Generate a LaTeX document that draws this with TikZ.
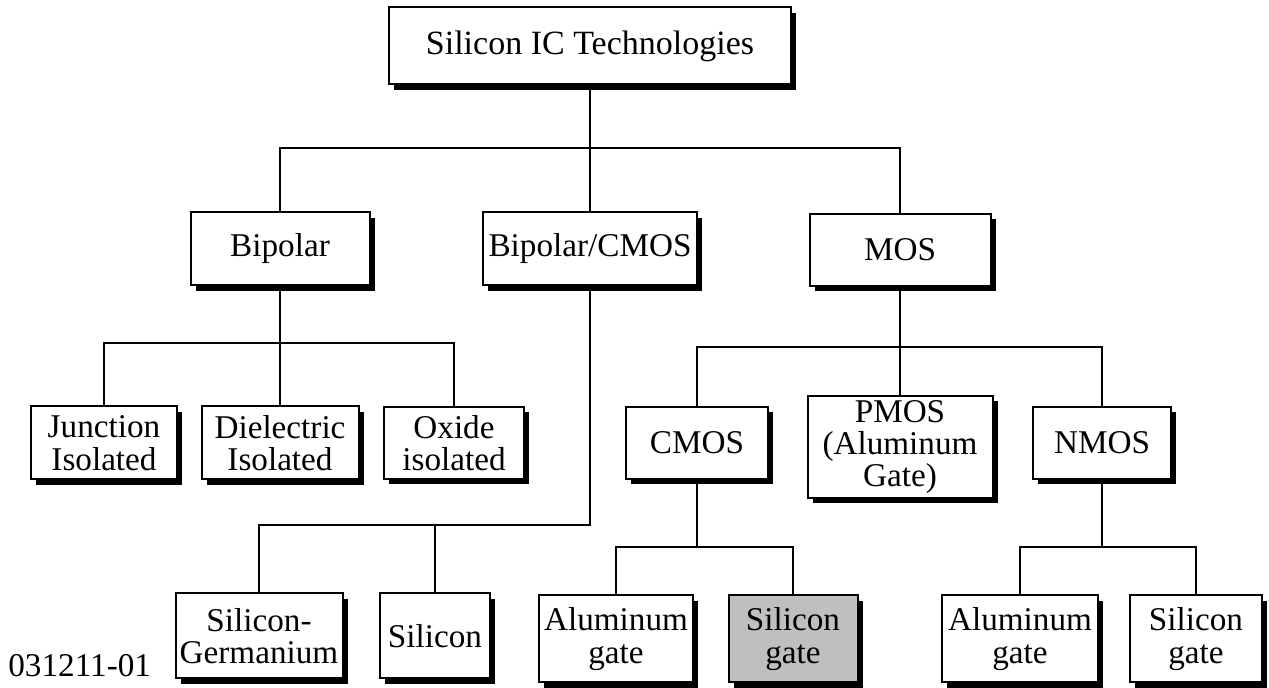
\documentclass[tikz,border=0pt]{standalone}
\usepackage{fontspec}
\setmainfont{Liberation Serif}
\usetikzlibrary{shadows}

\tikzset{
  techbox/.style={draw, line width=1pt, fill=white, align=center, inner sep=0pt,
    drop shadow={shadow xshift=2.6pt, shadow yshift=-2.6pt, fill=black, opacity=1}},
  wire/.style={line width=1pt}
}

\begin{document}
\begin{tikzpicture}[x=0.5pt, y=-0.5pt, font=\fontsize{16.6}{16.2}\selectfont]
    \useasboundingbox (0,0) rectangle (1269,688);
    % top level
    \node[techbox, minimum width=201pt, minimum height=38.5pt, font=\fontsize{17}{16}\selectfont] (top) at (590,46) {Silicon IC Technologies};
    % second level
    \node[techbox, minimum width=89.5pt, minimum height=36.5pt] (bip) at (280,249) {Bipolar};
    \node[techbox, minimum width=107pt, minimum height=36.5pt] (bicmos) at (590,249) {Bipolar/CMOS};
    \node[techbox, minimum width=90.5pt, minimum height=36pt] (mos) at (900,250) {MOS};
    % bipolar branch
    \node[techbox, minimum width=73pt, minimum height=36.5pt] (junc) at (104,443) {Junction\\Isolated};
    \node[techbox, minimum width=78.5pt, minimum height=36.5pt] (diel) at (280,443) {Dielectric\\Isolated};
    \node[techbox, minimum width=70pt, minimum height=36pt] (oxide) at (454,443) {Oxide\\isolated};
    % bipolar/cmos branch
    \node[techbox, minimum width=83.5pt, minimum height=42.5pt] (sige) at (259,636) {Silicon-\\Germanium};
    \node[techbox, minimum width=55pt, minimum height=42.5pt] (si) at (435,636) {Silicon};
    % mos branch
    \node[techbox, minimum width=71pt, minimum height=36pt] (cmos) at (697,443) {CMOS};
    \node[techbox, minimum width=92.5pt, minimum height=51pt] (pmos) at (900,447) {PMOS\\(Aluminum\\Gate)};
    \node[techbox, minimum width=69pt, minimum height=36pt] (nmos) at (1102,443) {NMOS};
    \node[techbox, minimum width=77pt, minimum height=43.5pt] (alg1) at (616,639) {Aluminum\\gate};
    \node[techbox, minimum width=64.5pt, minimum height=43.5pt, fill=black!25] (sig1) at (793,639) {Silicon\\gate};
    \node[techbox, minimum width=78pt, minimum height=43.5pt] (alg2) at (1020,639) {Aluminum\\gate};
    \node[techbox, minimum width=66pt, minimum height=43.5pt] (sig2) at (1196,639) {Silicon\\gate};
    % figure number
    \node[anchor=base west, inner sep=0pt] (fig) at (8,677) {031211-01};

    % connectors
    \coordinate (j1) at (590,148);
    \coordinate (j2) at (280,343);
    \coordinate (j3) at (590,525);
    \coordinate (j4) at (900,347);
    \coordinate (j5) at (697,547);
    \coordinate (j6) at (1102,547);
    \draw[wire] (top) -- (j1);
    \draw[wire] (bip.north) |- (j1) -| (mos.north);
    \draw[wire] (bicmos) -- (j1);
    \draw[wire] (bip) -- (j2);
    \draw[wire] (junc.north) |- (j2) -| (oxide.north);
    \draw[wire] (diel) -- (j2);
    \draw[wire] (bicmos) -- (j3) -| (sige.north);
    \draw[wire] (si.north) -- (si.north |- j3);
    \draw[wire] (mos) -- (pmos);
    \draw[wire] (cmos.north) |- (j4) -| (nmos.north);
    \draw[wire] (cmos) -- (j5);
    \draw[wire] (alg1.north) |- (j5) -| (sig1.north);
    \draw[wire] (nmos) -- (j6);
    \draw[wire] (alg2.north) |- (j6) -| (sig2.north);
\end{tikzpicture}
\end{document}
